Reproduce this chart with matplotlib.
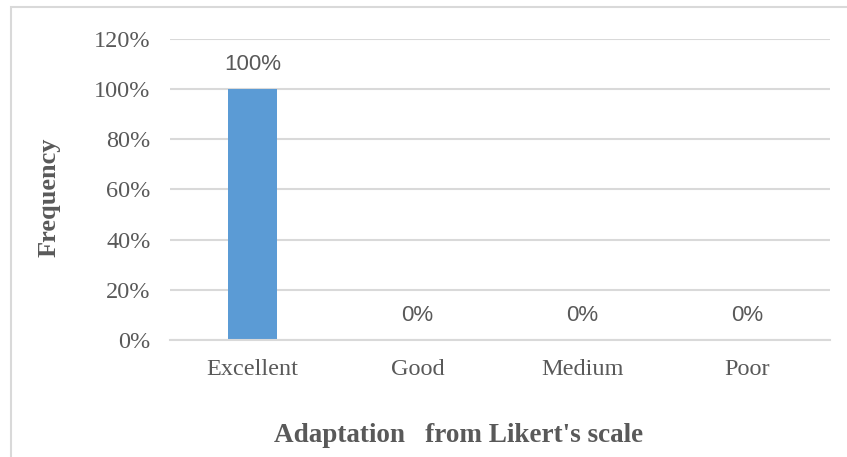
import matplotlib.pyplot as plt
from matplotlib.patches import Rectangle
from matplotlib.ticker import FuncFormatter

# Likert scale results
categories = ["Excellent", "Good", "Medium", "Poor"]
frequency = [100, 0, 0, 0]
y_ticks = [0, 20, 40, 60, 80, 100, 120]

BAR_COLOR = "#5B9BD5"
GRID_COLOR = "#D9D9D9"
TEXT_COLOR = "#595959"
SERIF = ["Liberation Serif", "DejaVu Serif"]
SANS = ["Liberation Sans", "DejaVu Sans"]

W, H = 847, 457
fig = plt.figure(figsize=(W / 100, H / 100), dpi=100)

# outer frame of the chart area (only left/top edges fall inside the image)
fig.patches.append(Rectangle((11 / W, -0.05), 1.2, 1 - 7 / H + 0.05,
                             transform=fig.transFigure, fill=False,
                             edgecolor=GRID_COLOR, linewidth=1.5))

ax = fig.add_axes([170 / W, 1 - 340 / H, 660 / W, 301 / H])

x = range(len(categories))
ax.bar(x, frequency, width=0.30, color=BAR_COLOR, zorder=3)

for xi, v in zip(x, frequency):
    ax.annotate(f"{v}%", (xi, v), xytext=(0, 10), textcoords="offset points",
                ha="center", va="bottom", fontsize=16, family=SANS,
                color=TEXT_COLOR)

ax.set_xlim(-0.5, len(categories) - 0.5)
ax.set_ylim(0, 120)
ax.set_yticks(y_ticks)
ax.yaxis.set_major_formatter(FuncFormatter(lambda v, _: f"{v:.0f}%"))
ax.set_xticks(list(x))
ax.set_xticklabels(categories)

ax.grid(axis="y", color=GRID_COLOR, linewidth=1.5, zorder=0)
for side in ["top", "right", "left"]:
    ax.spines[side].set_visible(False)
ax.spines["bottom"].set_color(GRID_COLOR)
ax.spines["bottom"].set_linewidth(1.5)
ax.spines["bottom"].set_zorder(4)

ax.tick_params(axis="both", length=0, colors=TEXT_COLOR, labelsize=17.5)
ax.tick_params(axis="y", pad=14)
ax.tick_params(axis="x", pad=14)
for lbl in ax.get_xticklabels() + ax.get_yticklabels():
    lbl.set_family(SERIF)

fig.text(49 / W, 1 - 197 / H, "Frequency", rotation=90, ha="center",
         va="center", fontsize=19, fontweight="bold", family=SERIF,
         color=TEXT_COLOR)
fig.text(459 / W, 1 - 435 / H, "Adaptation   from Likert's scale",
         ha="center", va="center", fontsize=19.5, fontweight="bold",
         family=SERIF, color=TEXT_COLOR)

fig.savefig("out.png", dpi=100)
